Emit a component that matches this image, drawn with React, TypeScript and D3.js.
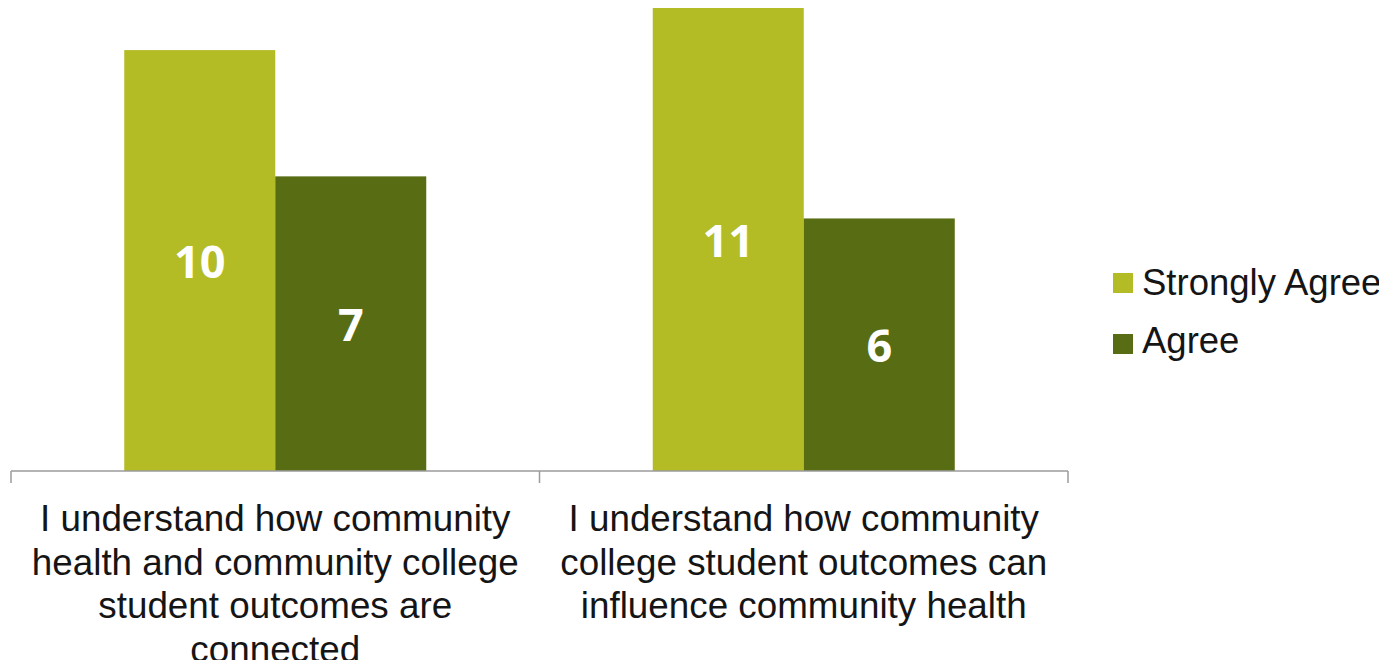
import React from "react";
import * as d3 from "d3";

const categories = [
  ["I understand how community", "health and community college", "student outcomes are", "connected"],
  ["I understand how community", "college student outcomes can", "influence community health"],
];
const seriesNames = ["Strongly Agree", "Agree"];
const strongly = [10, 11];
const agree = [7, 6];
const colors = ["#B3BC24", "#586C13"];

export default function App() {
  const W = 1387, H = 668;
  const x0 = d3.scaleBand<number>().domain([0, 1]).range([11, 1068]).paddingInner(0).paddingOuter(0);
  const x1 = d3.scaleBand<number>().domain([0, 1]).range([0, x0.bandwidth()]).paddingInner(0).paddingOuter(0.75);
  const y = d3.scaleLinear().domain([0, 11]).range([471, 8]);
  const series = [strongly, agree];
  return (
    <div style={{ margin: -8 }}>
      <svg width={W} height={H} style={{ display: "block", background: "#fff" }}>
        {categories.map((_, ci) =>
          series.map((vals, si) => {
            const bx = (x0(ci) as number) + (x1(si) as number);
            const bw = x1.bandwidth();
            const top = y(vals[ci]);
            return (
              <g key={`${ci}-${si}`}>
                <rect x={bx} y={top} width={bw} height={y(0) - top} fill={colors[si]} />
                <text
                  x={bx + bw / 2}
                  y={(top + y(0)) / 2}
                  dy="0.38em"
                  textAnchor="middle"
                  fill="#fff"
                  fontFamily="'Open Sans', sans-serif"
                  fontWeight={700}
                  fontSize={45}
                >
                  {vals[ci]}
                </text>
              </g>
            );
          })
        )}
        <line x1={11} x2={1068} y1={471} y2={471} stroke="#9b9b9b" strokeWidth={1.5} />
        {[0, 1, 2].map((i) => {
          const tx = i < 2 ? (x0(i) as number) : (x0(1) as number) + x0.bandwidth();
          return <line key={i} x1={tx} x2={tx} y1={471} y2={483} stroke="#9b9b9b" strokeWidth={1.5} />;
        })}
        {categories.map((lines, ci) => (
          <text
            key={ci}
            textAnchor="middle"
            fontFamily="'Liberation Sans', Arial, sans-serif"
            fontSize={36.8}
            fill="#151515"
          >
            {lines.map((l, li) => (
              <tspan key={li} x={(x0(ci) as number) + x0.bandwidth() / 2} y={531 + li * 43.5}>
                {l}
              </tspan>
            ))}
          </text>
        ))}
        {seriesNames.map((n, i) => (
          <g key={n}>
            <rect x={1113} y={273 + i * 61} width={20} height={20} fill={colors[i]} />
            <text
              x={1142}
              y={295 + i * 58}
              fontFamily="'Liberation Sans', Arial, sans-serif"
              fontSize={36.5}
              fill="#151515"
            >
              {n}
            </text>
          </g>
        ))}
      </svg>
    </div>
  );
}
